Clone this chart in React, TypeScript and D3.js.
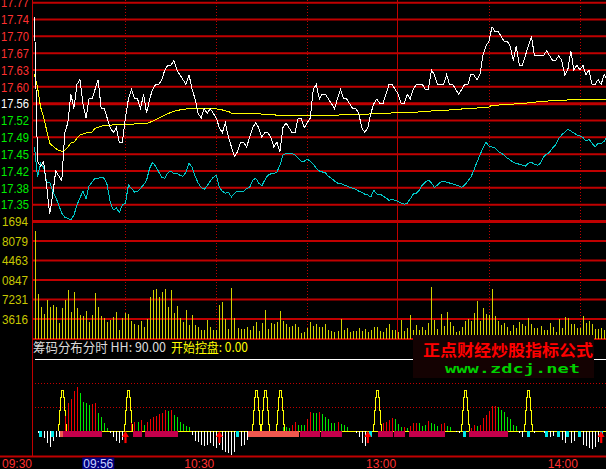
import React from 'react';
import * as d3 from 'd3';

// ---------- DATA ----------
const PREV_CLOSE = 17.56;
const PRICE_STEP = 0.035;
const PRICE_TICK_LABELS = ["17.77","17.74","17.70","17.67","17.63","17.60","17.56","17.52","17.49","17.45","17.42","17.38","17.35"];
const VOLUME_TICK_VALUES = [21694, 18079, 14463, 10847, 7231, 3616];
const VOLUME_TICK_LABELS = ["1694", "8079", "4463", "0847", "7231", "3616"];
const TIME_TICK_MINUTES = [0, 60, 120, 180];
const TIME_TICK_LABELS = ["09:30", "10:30", "13:00", "14:00"];
const DOTTED_GRID_MINUTES = [30, 60, 90, 150, 180];
const SOLID_GRID_MINUTES = [120];
const CURSOR_MINUTE = 26;
const CURSOR_LABEL = "09:56";

// minute price (white)
const PRICE = [
  17.74, 17.44, 17.43, 17.44, 17.39, 17.33, 17.37, 17.42, 17.41, 17.40,
  17.50, 17.52, 17.58, 17.55, 17.60, 17.61, 17.56, 17.53, 17.57, 17.57,
  17.59, 17.61, 17.55, 17.55, 17.53, 17.51, 17.50, 17.51, 17.48, 17.48,
  17.53, 17.57, 17.59, 17.57, 17.57, 17.55, 17.58, 17.54, 17.57, 17.59,
  17.60, 17.60, 17.61, 17.63, 17.64, 17.64, 17.65, 17.63, 17.62, 17.61,
  17.60, 17.62, 17.59, 17.57, 17.54, 17.53, 17.55, 17.54, 17.55, 17.54,
  17.53, 17.51, 17.50, 17.52, 17.49, 17.47, 17.45, 17.46, 17.48, 17.48,
  17.47, 17.49, 17.51, 17.52, 17.51, 17.49, 17.50, 17.50, 17.49, 17.47,
  17.48, 17.46, 17.51, 17.52, 17.51, 17.50, 17.50, 17.53, 17.53, 17.51,
  17.52, 17.53, 17.59, 17.60, 17.57, 17.58, 17.58, 17.57, 17.56, 17.55,
  17.57, 17.59, 17.57, 17.57, 17.56, 17.55, 17.55, 17.54, 17.51, 17.50,
  17.51, 17.54, 17.56, 17.57, 17.56, 17.56, 17.58, 17.60, 17.60, 17.59,
  17.58, 17.56, 17.56, 17.58, 17.57, 17.59, 17.60, 17.60, 17.60, 17.59,
  17.59, 17.63, 17.62, 17.60, 17.60, 17.60, 17.62, 17.60, 17.60, 17.59,
  17.58, 17.59, 17.60, 17.60, 17.62, 17.62, 17.61, 17.62, 17.66, 17.68,
  17.69, 17.72, 17.71, 17.71, 17.70, 17.69, 17.69, 17.68, 17.65, 17.68,
  17.64, 17.64, 17.66, 17.68, 17.70, 17.66, 17.66, 17.66, 17.66, 17.67,
  17.66, 17.65, 17.65, 17.66, 17.65, 17.62, 17.63, 17.67, 17.63, 17.64,
  17.63, 17.64, 17.62, 17.63, 17.60, 17.60, 17.61, 17.60, 17.62, 17.61,
];

// average price (yellow)
const AVG_PRICE = [
  17.621, 17.594, 17.553, 17.532, 17.505, 17.478, 17.472, 17.467, 17.463, 17.461,
  17.463, 17.470, 17.478, 17.480, 17.488, 17.495, 17.497, 17.499, 17.500, 17.501,
  17.509, 17.511, 17.513, 17.515, 17.515, 17.515, 17.516, 17.516, 17.516, 17.516,
  17.516, 17.517, 17.517, 17.518, 17.518, 17.518, 17.519, 17.519, 17.521, 17.524,
  17.527, 17.530, 17.533, 17.536, 17.539, 17.542, 17.544, 17.546, 17.547, 17.548,
  17.549, 17.549, 17.549, 17.549, 17.549, 17.549, 17.549, 17.549, 17.549, 17.549,
  17.549, 17.548, 17.547, 17.545, 17.544, 17.540, 17.540, 17.540, 17.540, 17.540,
  17.540, 17.540, 17.540, 17.540, 17.540, 17.538, 17.537, 17.537, 17.537, 17.537,
  17.536, 17.536, 17.536, 17.536, 17.536, 17.536, 17.536, 17.536, 17.536, 17.536,
  17.536, 17.536, 17.536, 17.536, 17.536, 17.536, 17.536, 17.536, 17.536, 17.536,
  17.536, 17.537, 17.537, 17.537, 17.537, 17.537, 17.538, 17.538, 17.538, 17.538,
  17.538, 17.539, 17.539, 17.539, 17.540, 17.540, 17.540, 17.540, 17.541, 17.541,
  17.541, 17.541, 17.542, 17.542, 17.542, 17.542, 17.542, 17.543, 17.543, 17.544,
  17.544, 17.545, 17.545, 17.546, 17.546, 17.546, 17.546, 17.547, 17.547, 17.548,
  17.548, 17.549, 17.549, 17.550, 17.550, 17.551, 17.551, 17.552, 17.552, 17.553,
  17.553, 17.557, 17.557, 17.557, 17.558, 17.558, 17.558, 17.559, 17.559, 17.560,
  17.560, 17.561, 17.561, 17.562, 17.563, 17.563, 17.564, 17.565, 17.565, 17.565,
  17.566, 17.566, 17.566, 17.567, 17.567, 17.567, 17.568, 17.568, 17.568, 17.568,
  17.569, 17.569, 17.569, 17.569, 17.569, 17.569, 17.569, 17.569, 17.569, 17.569,
];

// leading line (cyan)
const LEAD_LINE = [
  17.470, 17.407, 17.436, 17.428, 17.397, 17.397, 17.378, 17.366, 17.349, 17.332,
  17.324, 17.322, 17.318, 17.328, 17.349, 17.364, 17.378, 17.362, 17.389, 17.397,
  17.405, 17.405, 17.407, 17.405, 17.391, 17.355, 17.339, 17.343, 17.334, 17.349,
  17.353, 17.391, 17.384, 17.376, 17.378, 17.384, 17.391, 17.401, 17.426, 17.438,
  17.430, 17.418, 17.407, 17.405, 17.416, 17.420, 17.414, 17.416, 17.411, 17.409,
  17.418, 17.436, 17.428, 17.409, 17.395, 17.386, 17.382, 17.389, 17.399, 17.407,
  17.411, 17.386, 17.378, 17.374, 17.376, 17.366, 17.374, 17.378, 17.378, 17.378,
  17.384, 17.386, 17.401, 17.405, 17.395, 17.389, 17.401, 17.411, 17.414, 17.414,
  17.418, 17.432, 17.453, 17.457, 17.457, 17.457, 17.453, 17.447, 17.440, 17.440,
  17.445, 17.440, 17.434, 17.426, 17.420, 17.418, 17.416, 17.409, 17.405, 17.399,
  17.395, 17.395, 17.391, 17.389, 17.386, 17.384, 17.382, 17.378, 17.376, 17.372,
  17.370, 17.366, 17.380, 17.372, 17.372, 17.368, 17.364, 17.359, 17.362, 17.359,
  17.357, 17.353, 17.351, 17.353, 17.362, 17.372, 17.374, 17.380, 17.391, 17.397,
  17.401, 17.395, 17.386, 17.391, 17.397, 17.399, 17.397, 17.395, 17.393, 17.391,
  17.389, 17.386, 17.391, 17.399, 17.407, 17.422, 17.438, 17.453, 17.468, 17.480,
  17.472, 17.470, 17.468, 17.461, 17.457, 17.453, 17.447, 17.443, 17.438, 17.436,
  17.434, 17.432, 17.430, 17.436, 17.438, 17.434, 17.432, 17.436, 17.449, 17.455,
  17.459, 17.468, 17.474, 17.488, 17.495, 17.501, 17.507, 17.503, 17.499, 17.495,
  17.493, 17.490, 17.482, 17.486, 17.478, 17.470, 17.478, 17.476, 17.482, 17.493,
];

// minute volume
const VOLUME = [
  20000, 8220, 5790, 4490, 7100, 5790, 6170, 5790, 2800, 5610,
  7100, 8970, 4860, 8600, 5610, 4300, 4110, 5050, 2990, 4300,
  8410, 5790, 4110, 3740, 2990, 3360, 3920, 4860, 1500, 3740,
  4670, 4490, 3180, 2620, 2430, 3180, 2060, 3550, 7660, 8970,
  9160, 7660, 8600, 9160, 5790, 8970, 4670, 5980, 3740, 2990,
  5230, 2430, 4300, 2430, 2060, 1500, 1500, 3360, 2060, 1500,
  1500, 6170, 6730, 3550, 1680, 9350, 3740, 1870, 1680, 1680,
  2060, 1500, 2240, 2990, 1310, 2800, 5230, 1680, 2800, 2620,
  2990, 5050, 3180, 2620, 2060, 2240, 2620, 2060, 930, 1120,
  1870, 2990, 2240, 2620, 2060, 2060, 2620, 1500, 1310, 1120,
  1310, 3550, 1500, 1870, 1120, 1310, 1310, 1870, 1310, 1680,
  1120, 1500, 2060, 2060, 1310, 1120, 1870, 2620, 1500, 1500,
  1120, 3360, 1310, 1870, 4300, 1500, 2430, 1500, 2060, 1500,
  2800, 9530, 3360, 1680, 4490, 2240, 4860, 2990, 2240, 1120,
  1310, 2060, 3180, 3550, 3180, 4670, 6920, 3180, 5610, 4490,
  4300, 9160, 4110, 3180, 2430, 2800, 2060, 1310, 2430, 1870,
  2990, 2620, 2240, 3740, 2620, 1870, 1870, 2240, 1500, 1500,
  2800, 2060, 1120, 3550, 1870, 3920, 3740, 2620, 2620, 1870,
  1870, 4110, 2800, 3180, 2620, 1680, 1680, 1870, 1500,
];

// indicator: HH level, spikes, up bars (minute, value, colour), down bars, blocks, marks, arrows
const HH_LEVEL = 90;
const DOTTED_LEVELS = [30, 60];
const SPIKE_LEVELS = [8, 25, 42, 51];
const SPIKE_MINUTES = [9, 31, 73, 76, 81, 113, 142, 163];
const LINE_START_MINUTE = 8;
const UP_BARS: [number, number, string][] = [
  [10,18,'r'],[11,35,'r'],[12,40,'r'],[13,50,'r'],[14,55,'r'],[15,47,'g'],[16,36,'g'],[17,35,'g'],[18,32,'g'],[19,33,'r'],[20,35,'r'],[21,22,'g'],[22,17,'g'],[23,9,'g'],[24,3,'g'],
  [32,9,'r'],[33,11,'r'],[34,11,'g'],[35,13,'r'],[36,7,'g'],[37,11,'r'],[38,15,'r'],[39,17,'r'],[40,18,'r'],[41,21,'r'],[42,22,'r'],[43,26,'r'],[44,25,'g'],[45,26,'r'],[46,20,'g'],[47,17,'g'],[48,11,'g'],[49,8,'g'],[50,6,'g'],[51,4,'g'],
  [82,4,'g'],[83,4,'g'],[84,3,'g'],[85,7,'r'],[86,11,'r'],[87,7,'g'],[88,7,'g'],[89,7,'g'],[90,15,'r'],[91,23,'r'],[92,22,'g'],[93,22,'g'],[94,23,'r'],[95,21,'g'],[96,17,'g'],[97,15,'g'],[98,9,'g'],[99,9,'g'],[100,11,'r'],[101,8,'g'],[102,7,'g'],[103,4,'g'],
  [115,9,'r'],[116,11,'r'],[117,13,'r'],[118,16,'r'],[119,15,'g'],[120,8,'g'],[121,4,'g'],[122,4,'r'],[123,3,'g'],[124,6,'r'],[125,9,'r'],[126,9,'r'],[127,9,'g'],[128,6,'g'],[129,7,'g'],[130,12,'r'],[131,9,'g'],[132,8,'g'],[133,6,'g'],[134,8,'r'],[135,9,'r'],[136,6,'g'],[137,4,'g'],
  [144,3,'r'],[145,7,'r'],[146,6,'g'],[147,7,'r'],[148,16,'r'],[149,20,'r'],[150,25,'r'],[151,31,'r'],[152,31,'r'],[153,30,'g'],[154,26,'g'],[155,23,'g'],[156,17,'g'],[157,15,'g'],[158,7,'g'],[159,6,'g'],
];
const DOWN_BARS: [number, number][] = [
  [1,-3],[3,-9],[4,-16],[5,-21],[6,-13],[7,-8],[8,-8],
  [25,-3],[26,-8],[27,-13],[28,-16],[29,-12],
  [52,-6],[53,-13],[54,-15],[55,-18],[56,-19],[57,-18],[58,-16],[59,-20],[60,-22],[61,-18],[62,-25],[63,-27],[64,-28],[65,-31],[66,-27],[68,-20],[69,-18],[70,-12],
  [106,-3],[107,-8],[108,-16],[109,-20],
  [139,-2],[140,-3],[160,-3],[161,-8],
  [165,-3],[168,-3],[170,-8],[171,-7],[174,-12],[175,-16],[177,-16],[178,-13],[181,-18],[182,-19],[183,-22],[184,-23],[185,-21],[186,-15],
];
const MAGENTA_RANGES: [number, number][] = [[10,22],[33,35],[37,46],[47,47],[88,94],[95,101],[114,118],[119,122],[124,135],[144,156]];
const SALMON_RANGES: [number, number][] = [[9,9],[71,87]];
const BLOCK_DEPTH = -8;
const CYAN_MARKS = [2, 6, 67, 111, 142, 163, 169, 173, 176, 180, 187];
const ARROW_MINUTES = [30, 61, 110, 187];

// ---------- CHART ----------
const GRID = '#c00000';

export default function App() {
  const x = d3.scaleLinear().domain([0, 240]).range([34.5, 34.5 + 3.03 * 240]);
  const priceY = d3.scaleLinear()
    .domain([PREV_CLOSE - 7 * PRICE_STEP, PREV_CLOSE + 6 * PRICE_STEP])
    .range([221.5, 2.7]);
  const volY = d3.scaleLinear().domain([0, VOLUME_TICK_VALUES[0]]).range([338.5, 221.5]);
  const indY = d3.scaleLinear().domain([-32, 90]).range([456, 359]);

  const px = (m: number) => Math.round(x(m)) + 0.5;

  const line = d3.line<number>().x((_, i) => x(i)).y(d => priceY(d));

  const priceGrid = PRICE_TICK_LABELS.map((lab, k) => ({ lab, v: PREV_CLOSE + (6 - k) * PRICE_STEP, k }));
  const y0 = indY(0);

  const spikePath = (m: number) => {
    const c = px(m);
    const ys = SPIKE_LEVELS.map(v => indY(v));
    let d = `M${c - 4},${y0}`;
    d += `V${ys[0]}H${c - 3}V${ys[1]}H${c - 2}V${ys[2]}H${c - 1}V${ys[3]}H${c + 1}`;
    d += `V${ys[2]}H${c + 2}V${ys[1]}H${c + 3}V${ys[0]}H${c + 4}V${y0}`;
    return d;
  };

  const font = 'Liberation Sans, Arial, sans-serif';
  const cjk = '"Noto Sans CJK SC", sans-serif';

  return (
    <svg width={606} height={469} style={{ position: 'fixed', left: 0, top: 0, background: '#000', display: 'block' }}>
      <rect x={0} y={0} width={606} height={469} fill="#000" />

      {/* price grid */}
      {priceGrid.map(g => (
        <line key={'pg' + g.k} x1={33} x2={606} y1={priceY(g.v)} y2={priceY(g.v)} stroke={GRID} strokeWidth={g.k === 6 ? 3 : 2} />
      ))}
      <line x1={33} x2={606} y1={priceY(PREV_CLOSE - 7 * PRICE_STEP)} y2={priceY(PREV_CLOSE - 7 * PRICE_STEP)} stroke={GRID} strokeWidth={3} />
      {/* volume grid */}
      {VOLUME_TICK_VALUES.slice(1).map(v => (
        <line key={'vg' + v} x1={33} x2={606} y1={volY(v)} y2={volY(v)} stroke={GRID} strokeWidth={2} />
      ))}
      <line x1={33} x2={606} y1={volY(0) + 0.5} y2={volY(0) + 0.5} stroke={GRID} strokeWidth={2} />

      {/* vertical grid */}
      {DOTTED_GRID_MINUTES.map(m => (
        <line key={'dv' + m} x1={px(m)} x2={px(m)} y1={0} y2={338} stroke={GRID} strokeWidth={1} strokeDasharray="1,2" shapeRendering="crispEdges" />
      ))}
      {SOLID_GRID_MINUTES.map(m => (
        <line key={'sv' + m} x1={px(m) - 1} x2={px(m) - 1} y1={0} y2={338} stroke={GRID} strokeWidth={1} shapeRendering="crispEdges" />
      ))}

      {/* volume bars */}
      {VOLUME.map((v, i) => (
        <line key={'vb' + i} x1={px(i)} x2={px(i)} y1={volY(0)} y2={volY(v)} stroke="#d2d200" strokeWidth={1} shapeRendering="crispEdges" />
      ))}

      {/* price lines */}
      <path d={line(LEAD_LINE) || ''} fill="none" stroke="#00c8c8" strokeWidth={1} shapeRendering="crispEdges" />
      <path d={line(AVG_PRICE) || ''} fill="none" stroke="#ffff00" strokeWidth={1} shapeRendering="crispEdges" />
      <path d={line(PRICE) || ''} fill="none" stroke="#ffffff" strokeWidth={1} shapeRendering="crispEdges" />

      {/* indicator panel */}
      <line x1={35} x2={606} y1={Math.round(indY(HH_LEVEL)) + 0.5} y2={Math.round(indY(HH_LEVEL)) + 0.5} stroke="#ffffff" strokeWidth={1} shapeRendering="crispEdges" />
      {DOTTED_LEVELS.map(l => (
        <line key={'dl' + l} x1={35} x2={606} y1={Math.round(indY(l)) + 0.5} y2={Math.round(indY(l)) + 0.5} stroke={GRID} strokeWidth={1} strokeDasharray="1,2" shapeRendering="crispEdges" />
      ))}
      <line x1={px(LINE_START_MINUTE)} x2={606} y1={Math.round(y0) + 0.5} y2={Math.round(y0) + 0.5} stroke="#ffff00" strokeWidth={1} shapeRendering="crispEdges" />
      {SPIKE_MINUTES.map(m => (
        <path key={'sp' + m} d={spikePath(m)} fill="none" stroke="#ffff00" strokeWidth={1} shapeRendering="crispEdges" />
      ))}
      {UP_BARS.map(([m, v, c]) => (
        <line key={'ub' + m} x1={px(m)} x2={px(m)} y1={y0} y2={indY(v)} stroke={c === 'r' ? '#f00000' : '#00e800'} strokeWidth={1} shapeRendering="crispEdges" />
      ))}
      {DOWN_BARS.map(([m, v]) => (
        <line key={'db' + m} x1={px(m)} x2={px(m)} y1={y0} y2={indY(v)} stroke="#ffffff" strokeWidth={1} shapeRendering="crispEdges" />
      ))}
      {SALMON_RANGES.map(([a, b]) => (
        <rect key={'sr' + a} x={x(a) - 1.5} y={y0} width={x(b) - x(a) + 2.5} height={indY(BLOCK_DEPTH) - y0} fill="#f0584f" shapeRendering="crispEdges" />
      ))}
      {MAGENTA_RANGES.map(([a, b]) => (
        <rect key={'mr' + a} x={x(a) - 1.5} y={y0} width={x(b) - x(a) + 2.5} height={indY(BLOCK_DEPTH) - y0} fill="#c4004c" shapeRendering="crispEdges" />
      ))}
      {CYAN_MARKS.map(m => (
        <rect key={'cm' + m} x={x(m) - 1.5} y={y0} width={3} height={indY(BLOCK_DEPTH) - y0} fill="#00e8e8" shapeRendering="crispEdges" />
      ))}
      {ARROW_MINUTES.map(m => {
        const c = x(m);
        const t = y0 + 0.5;
        return (
          <g key={'ar' + m}>
            <path d={`M${c},${t} L${c + 3.5},${t + 6} L${c - 3.5},${t + 6} Z`} fill="#ff0000" />
            <rect x={c - 1} y={t + 6} width={2.2} height={6} fill="#ff0000" />
          </g>
        );
      })}

      {/* title */}
      <text x={33} y={352} fontFamily={cjk} fontSize={13} fill="#dcdcdc" textLength={133} lengthAdjust="spacingAndGlyphs">筹码分布分时 HH: 90.00</text>
      <text x={171} y={352} fontFamily={cjk} fontSize={13} fill="#ffff00" textLength={77} lengthAdjust="spacingAndGlyphs">开始控盘: 0.00</text>

      {/* watermark */}
      <rect x={413} y={335} width={181} height={43} fill="#140202" />
      <text x={423} y={356} fontFamily={cjk} fontSize={16} fontWeight="bold" fill="#ff0000" textLength={170} lengthAdjust="spacingAndGlyphs">正点财经炒股指标公式</text>
      <text x={445} y={373} fontFamily="DejaVu Sans Mono, monospace" fontSize={13} fontWeight="bold" fill="#00d000" textLength={135} lengthAdjust="spacingAndGlyphs">www.zdcj.net</text>

      {/* axes */}
      <line x1={32.5} x2={32.5} y1={0} y2={456} stroke={GRID} strokeWidth={1} />
      <line x1={0} x2={606} y1={456.5} y2={456.5} stroke={GRID} strokeWidth={2} />

      {priceGrid.map(g => (
        <text key={'pl' + g.k} x={29} y={priceY(g.v)} dy="0.36em" textAnchor="end" fontFamily={font} fontSize={13}
          fill={g.k < 6 ? '#ff3030' : g.k === 6 ? '#ffffff' : '#00ee00'} textLength={28} lengthAdjust="spacingAndGlyphs">{g.lab}</text>
      ))}
      {VOLUME_TICK_VALUES.map((v, i) => (
        <text key={'vl' + i} x={28} y={volY(v)} dy="0.36em" textAnchor="end" fontFamily={font} fontSize={13}
          fill="#c8c800" textLength={26} lengthAdjust="spacingAndGlyphs">{VOLUME_TICK_LABELS[i]}</text>
      ))}

      {/* time axis */}
      {TIME_TICK_MINUTES.map((m, i) => (
        <text key={'tl' + m} x={m === 0 ? 32 : x(m) - 2} y={467.5} textAnchor="end" fontFamily={font} fontSize={12} fill="#ff3030">{TIME_TICK_LABELS[i]}</text>
      ))}
      <rect x={x(CURSOR_MINUTE) - 31} y={457.5} width={32} height={12} fill="#00007c" />
      <text x={x(CURSOR_MINUTE) - 15} y={467.5} textAnchor="middle" fontFamily={font} fontSize={12} fill="#c8d0ff">{CURSOR_LABEL}</text>
    </svg>
  );
}
